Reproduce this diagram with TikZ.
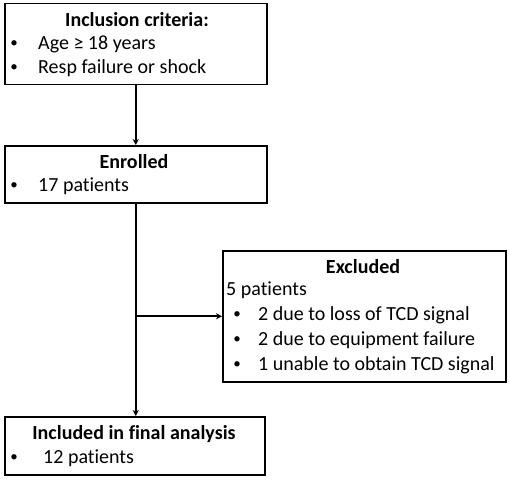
\documentclass[tikz,border=0pt]{standalone}
\usepackage{fontspec}
\setmainfont{Carlito}[Ligatures=NoCommon]
\usetikzlibrary{arrows.meta}
\begin{document}
\begin{tikzpicture}[x=1pt,y=1pt,
  box/.style={draw=black,line width=1.5pt,anchor=north west,inner sep=0pt},
  txt/.style={anchor=west,inner sep=0pt,font=\fontsize{20}{22}\selectfont},
  ttl/.style={anchor=center,inner sep=0pt,font=\fontsize{20}{22}\selectfont\bfseries},
  bul/.style={anchor=center,inner sep=0pt,font=\fontsize{15}{17}\selectfont},
  arr/.style={line width=2pt,-{Stealth[length=6pt,width=6pt]}}]
\useasboundingbox (0,0) rectangle (510,-479);
% boxes
\node[box,minimum width=262pt,minimum height=81pt] (inc) at (4,-2.5) {};
\node[box,minimum width=262pt,minimum height=57pt] (enr) at (4,-145) {};
\node[box,minimum width=283pt,minimum height=131pt] (exc) at (222,-250) {};
\node[box,minimum width=260pt,minimum height=58pt] (fin) at (4,-416) {};
% inclusion text
\node[ttl] (t1) at (137,-20) {Inclusion criteria:};
\node[bul] (b11) at (14,-44) {•};
\node[txt] (l11) at (38,-44) {Age ≥ 18 years};
\node[bul] (b12) at (14,-68) {•};
\node[txt] (l12) at (38,-68) {Resp failure or shock};
% enrolled text
\node[ttl] (t2) at (134,-162) {Enrolled};
\node[bul] (b21) at (14,-186) {•};
\node[txt] (l21) at (38,-186) {17 patients};
% excluded text
\node[ttl] (t3) at (363,-267) {Excluded};
\node[txt] (l30) at (226,-290) {5 patients};
\node[bul] (b31) at (237,-315) {•};
\node[txt] (l31) at (258,-315) {2 due to loss of TCD signal};
\node[bul] (b32) at (237,-340) {•};
\node[txt] (l32) at (258,-340) {2 due to equipment failure};
\node[bul] (b33) at (237,-365) {•};
\node[txt] (l33) at (258,-365) {1 unable to obtain TCD signal};
% final text
\node[ttl] (t4) at (134,-434) {Included in final analysis};
\node[bul] (b41) at (14,-458) {•};
\node[txt] (l41) at (43,-458) {12 patients};
% connectors
\draw[arr] (inc.south) -- (enr.north);
\coordinate (br) at (enr.south |- exc.west);
\draw[arr] (enr.south) -- (enr.south |- fin.north);
\draw[arr] (br) -- (exc.west);
\end{tikzpicture}
\end{document}
